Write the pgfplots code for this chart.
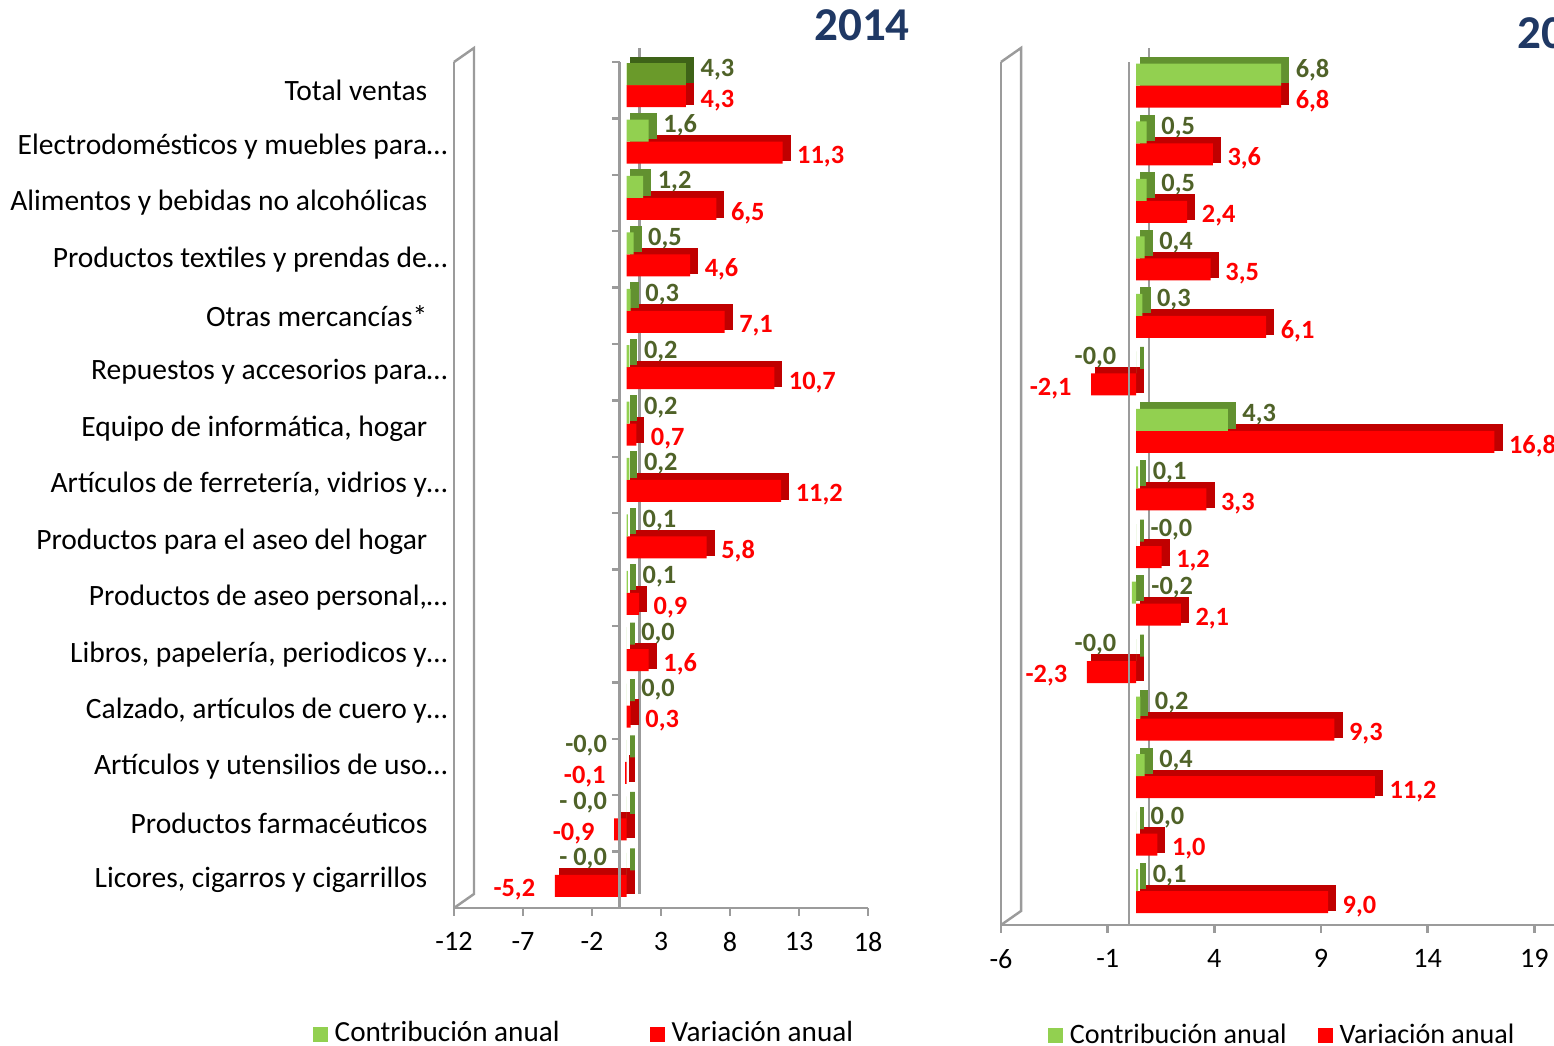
\documentclass[border=0pt]{standalone}
\usepackage{pgfplots}
\pgfplotsset{compat=1.18}
\usepackage{pgfplotstable}
\usepackage{fontspec}
\setmainfont{Carlito}
\definecolor{cgreen}{RGB}{146,208,80}
\definecolor{cgreenside}{RGB}{98,145,48}
\definecolor{cdgreen}{RGB}{106,154,42}
\definecolor{cdgreenside}{RGB}{62,99,24}
\definecolor{cred}{RGB}{255,0,0}
\definecolor{credside}{RGB}{192,0,0}
\definecolor{lblgreen}{RGB}{79,98,40}
\definecolor{axgray}{RGB}{155,155,155}
\definecolor{ttl}{RGB}{31,56,100}

% 2014  (ca/va: 180 = label right of bar, 0 = label left of bar)
\pgfplotstableread{
y c cl ca cs v vl va vs
14 4.3 4,3 180 1.4 4.3 4,3 180 1.4
13 1.6 1,6 180 1.4 11.3 11,3 180 1.4
12 1.2 1,2 180 1.4 6.5 6,5 180 1.4
11 0.5 0,5 180 1.4 4.6 4,6 180 1.4
10 0.3 0,3 180 1.4 7.1 7,1 180 1.4
9 0.2 0,2 180 1.4 10.7 10,7 180 1.4
8 0.2 0,2 180 1.4 0.7 0,7 180 1.4
7 0.2 0,2 180 1.4 11.2 11,2 180 1.4
6 0.1 0,1 180 1.4 5.8 5,8 180 1.4
5 0.1 0,1 180 1.4 0.9 0,9 180 1.4
4 0.0 0,0 180 1.4 1.6 1,6 180 1.4
3 0.0 0,0 180 1.4 0.3 0,3 180 1.4
2 -0.0 -0,0 0 -1.9 -0.1 -0,1 0 -1.9
1 -0.0 {- 0,0} 0 -1.9 -0.9 -0,9 0 -1.9
0 -0.0 {- 0,0} 0 -1.9 -5.2 -5,2 0 -1.9
}\tabA

% 2015
\pgfplotstableread{
y c cl ca cs v vl va vs
14 6.8 6,8 180 1.4 6.8 6,8 180 1.4
13 0.5 0,5 180 1.4 3.6 3,6 180 1.4
12 0.5 0,5 180 1.4 2.4 2,4 180 1.4
11 0.4 0,4 180 1.4 3.5 3,5 180 1.4
10 0.3 0,3 180 1.4 6.1 6,1 180 1.4
9 -0.0 -0,0 0 -1.9 -2.1 -2,1 0 -1.9
8 4.3 4,3 180 1.4 16.8 16,8 180 1.4
7 0.1 0,1 180 1.4 3.3 3,3 180 1.4
6 -0.0 -0,0 180 1.4 1.2 1,2 180 1.4
5 -0.2 -0,2 180 1.9 2.1 2,1 180 1.4
4 -0.0 -0,0 0 -1.9 -2.3 -2,3 0 -1.9
3 0.2 0,2 180 1.4 9.3 9,3 180 1.4
2 0.4 0,4 180 1.4 11.2 11,2 180 1.4
1 0.0 0,0 180 1.4 1.0 1,0 180 1.4
0 0.1 0,1 180 1.4 9.0 9,0 180 1.4
}\tabB

\pgfplotsset{
  base/.style={
    scale only axis, anchor=south west,
    ymin=-0.5, ymax=14.5,
    axis x line*=bottom, axis y line*=left,
    axis line style={draw=axgray, line width=0.7pt},
    xtick style={draw=axgray, line width=0.7pt},
    ytick={0,...,14}, ytick style={draw=none},
    tick align=outside, major tick length=0.8mm,
    /pgf/number format/assume math mode=true,
    xticklabel style={font=\fontsize{8}{9.6}\selectfont, inner sep=0pt, yshift=-1.6mm},
    yticklabel style={font=\fontsize{8.4}{10}\selectfont, anchor=east, inner sep=0pt, xshift=0.2mm},
    clip=false,
    legend columns=2,
    legend image code/.code={\fill[##1, draw=none] (0,-0.75mm) rectangle (1.5mm,0.75mm);},
    legend style={draw=none, fill=none, inner sep=0pt, anchor=west},
  },
  back/.style={xbar, bar width=2.2mm, bar shift=#1, line width=1.2pt,
     xshift=1.3mm, yshift=0.95mm, forget plot},
  front/.style={xbar, bar width=2.2mm, bar shift=#1, draw=none,
     xshift=0.7mm, yshift=0.5mm, forget plot},
  lblv/.style={nodes near coords, point meta=explicit symbolic,
     visualization depends on={\thisrow{va} \as \lanc},
     visualization depends on={\thisrow{vs} \as \lsh},
     nodes near coords style={anchor=\lanc, xshift=\lsh mm, yshift=-1.5mm, text=cred,
       font=\fontsize{7.5}{9}\selectfont\bfseries, inner sep=0pt}},
  lblc/.style={nodes near coords, point meta=explicit symbolic,
     visualization depends on={\thisrow{ca} \as \lanc},
     visualization depends on={\thisrow{cs} \as \lsh},
     nodes near coords style={anchor=\lanc, xshift=\lsh mm, yshift=1.6mm, text=lblgreen,
       font=\fontsize{7.5}{9}\selectfont\bfseries, inner sep=0pt}},
}

\begin{document}
\begin{tikzpicture}
\path[use as bounding box] (0,0) rectangle (15.54,10.46);

\begin{axis}[base, at={(4.54cm,1.38cm)}, width=4.14cm, height=8.46cm,
  xmin=-12, xmax=18, xtick={-12,-7,...,18},
  yticklabels={{Licores, cigarros y cigarrillos\hspace*{2mm}},
    {Productos farmacéuticos\hspace*{2mm}},
    {Artículos y utensilios de uso…},
    {Calzado, artículos de cuero y…},
    {Libros, papelería, periodicos y…},
    {Productos de aseo personal,…},
    {Productos para el aseo del hogar\hspace*{2mm}},
    {Artículos de ferretería, vidrios y…},
    {Equipo de informática, hogar\hspace*{2mm}},
    {Repuestos y accesorios para…},
    {Otras mercancías*\hspace*{2mm}},
    {Productos textiles y prendas de…},
    {Alimentos y bebidas no alcohólicas\hspace*{2mm}},
    {Electrodomésticos y muebles para…},
    {Total ventas\hspace*{2mm}}},
  legend style={at={(axis description cs:-0.343,-0.149)},
    font=\fontsize{8.3}{10}\selectfont,
    /tikz/every even column/.append style={column sep=8.3mm}},
]
\draw[axgray, line width=0.7pt] (rel axis cs:0,1) -- ([shift={(2mm,1.4mm)}]rel axis cs:0,1)
   -- ([shift={(2mm,1.4mm)}]rel axis cs:0,0) -- (rel axis cs:0,0);
\draw[axgray, line width=0.7pt] ([shift={(2mm,1.4mm)}]axis cs:0,-0.5) -- ([shift={(2mm,1.4mm)}]axis cs:0,14.5);
\addplot[back=-1.1mm, fill=credside, draw=credside] table[x=v,y=y]{\tabA};
\addplot[front=-1.1mm, fill=cred, lblv] table[x=v,y=y,meta=vl]{\tabA};
\addplot[back=1.1mm, fill=cgreenside, draw=cgreenside] table[x=c,y=y]{\tabA};
\addplot[front=1.1mm, fill=cgreen, lblc] table[x=c,y=y,meta=cl]{\tabA};
\addplot[back=1.1mm, fill=cdgreenside, draw=cdgreenside] coordinates {(4.3,14)};
\addplot[front=1.1mm, fill=cdgreen] coordinates {(4.3,14)};
\draw[axgray, line width=0.7pt] (axis cs:0,-0.5) -- (axis cs:0,14.5);
\pgfplotsinvokeforeach{-0.5,0.5,1.5,2.5,3.5,4.5,5.5,6.5,7.5,8.5,9.5,10.5,11.5,12.5,13.5,14.5}{
  \draw[axgray, line width=0.7pt] (axis cs:0,#1) -- ([xshift=-0.8mm]axis cs:0,#1);}
\addlegendimage{fill=cgreen}
\addlegendentry{Contribución anual}
\addlegendimage{fill=cred}
\addlegendentry{Variación anual}
\end{axis}

\begin{axis}[base, at={(10.01cm,1.21cm)}, width=6.40cm, height=8.63cm,
  xmin=-6, xmax=24, xtick={-6,-1,...,24}, yticklabels={},
  legend style={at={(axis description cs:0.072,-0.1285)},
    font=\fontsize{8}{10}\selectfont,
    /tikz/every even column/.append style={column sep=2.4mm}},
]
\draw[axgray, line width=0.7pt] (rel axis cs:0,1) -- ([shift={(2mm,1.4mm)}]rel axis cs:0,1)
   -- ([shift={(2mm,1.4mm)}]rel axis cs:0,0) -- (rel axis cs:0,0);
\draw[axgray, line width=0.7pt] ([shift={(2mm,1.4mm)}]axis cs:0,-0.5) -- ([shift={(2mm,1.4mm)}]axis cs:0,14.5);
\addplot[back=-1.1mm, fill=credside, draw=credside] table[x=v,y=y]{\tabB};
\addplot[front=-1.1mm, fill=cred, lblv] table[x=v,y=y,meta=vl]{\tabB};
\addplot[back=1.1mm, fill=cgreenside, draw=cgreenside] table[x=c,y=y]{\tabB};
\addplot[front=1.1mm, fill=cgreen, lblc] table[x=c,y=y,meta=cl]{\tabB};
\draw[axgray, line width=0.7pt] (axis cs:0,-0.5) -- (axis cs:0,14.5);
\addlegendimage{fill=cgreen}
\addlegendentry{Contribución anual}
\addlegendimage{fill=cred}
\addlegendentry{Variación anual}
\end{axis}

\node[font=\fontsize{13.4}{16}\selectfont\bfseries, text=ttl] at (8.62,10.21) {2014};
\node[font=\fontsize{13.4}{16}\selectfont\bfseries, text=ttl] at (15.65,10.13) {2015};
\end{tikzpicture}
\end{document}
